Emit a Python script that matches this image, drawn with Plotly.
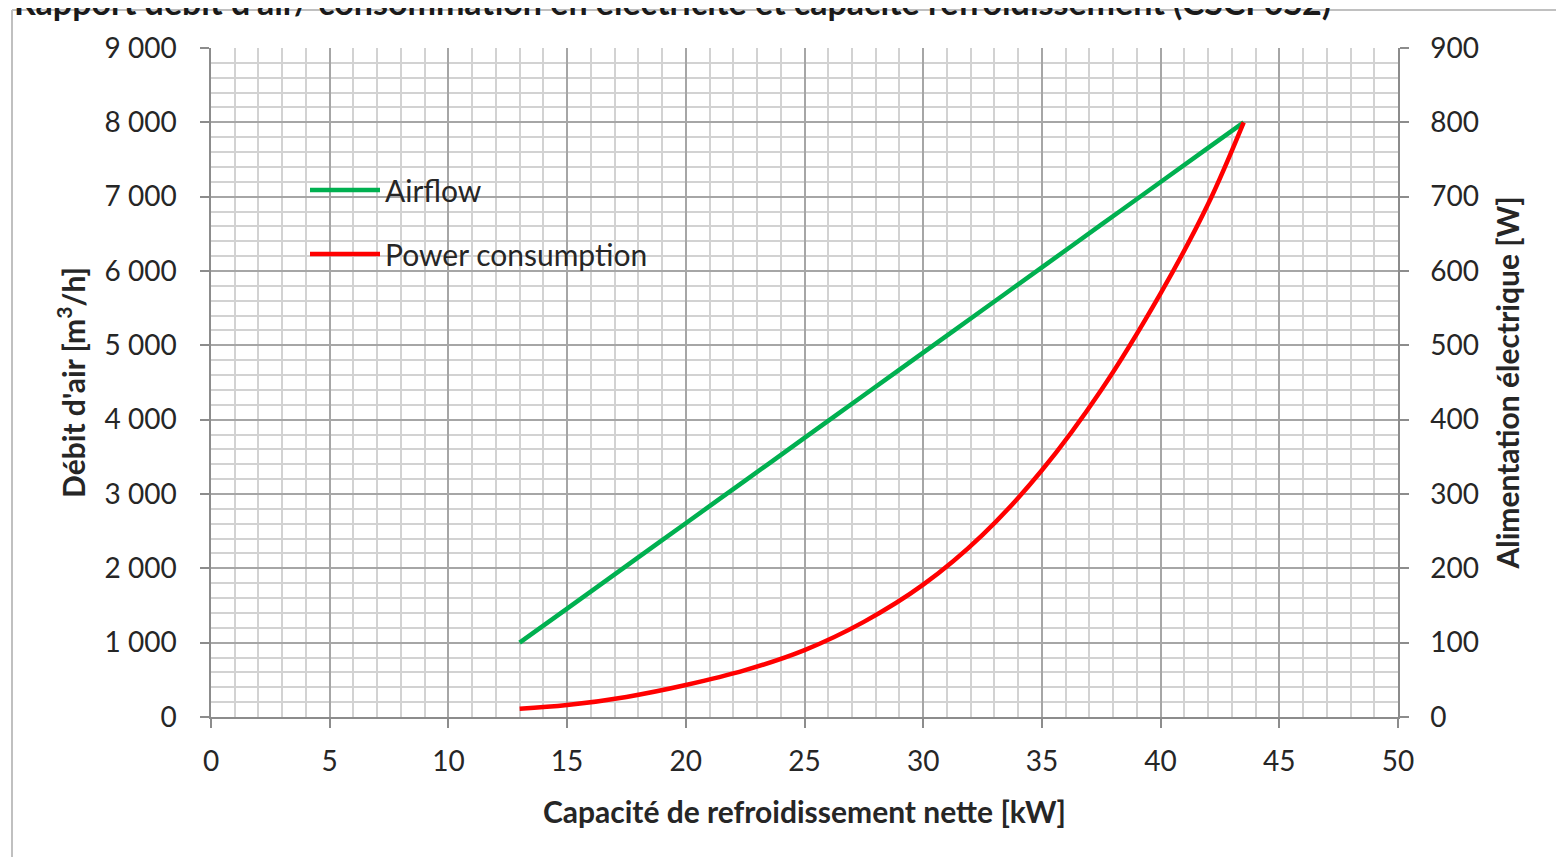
import plotly.graph_objects as go

# Data
capacity_kw = [13, 15, 17.5, 20, 22.5, 25, 27.5, 30, 32.5, 35, 37.5, 40, 42, 43.5]
airflow_m3h = [1000, 1459, 2033, 2607, 3180, 3754, 4328, 4902, 5475, 6049, 6623, 7197, 7656, 8000]
power_w = [11, 16, 27, 43, 63, 90, 128, 178, 245, 332, 440, 570, 690, 800]

x_ticks = [0, 5, 10, 15, 20, 25, 30, 35, 40, 45, 50]
title_text = "Rapport débit d'air/ consommation en électricité et capacité refroidissement (CSCI 0S2)"

FONT = "Lato"
TXT = "#262626"
OFF = 8  # page body margin

W, H = 1564 - OFF * 2, 865 - OFF * 2
# plot area in page pixels: x 211..1398, y 48..717
X0, X1, Y0, Y1 = 211 - OFF, 1398 - OFF, 48 - OFF, 717 - OFF
L, R, T, B = X0, W - X1, Y0, H - Y1
ph = Y1 - Y0
pw = X1 - X0


def px(x):
    return (x - OFF - X0) / pw


def py(y):
    return (Y1 - (y - OFF)) / ph


fig = go.Figure()
fig.add_trace(go.Scatter(
    x=capacity_kw, y=airflow_m3h, mode="lines", name="Airflow",
    line=dict(color="#00B050", width=4.5, shape="spline"),
    legendgroup="a", yaxis="y"))
fig.add_trace(go.Scatter(
    x=capacity_kw, y=power_w, mode="lines", name="Power consumption",
    line=dict(color="#FF0000", width=4.5, shape="spline"),
    legendgroup="b", yaxis="y2"))

axis_common = dict(
    ticks="outside", ticklen=9, tickcolor="#8c8c8c", tickwidth=1.5,
    showline=True, linecolor="#8c8c8c", linewidth=1.5, zeroline=False,
    tickfont=dict(family=FONT, size=28, color=TXT),
)
title_font = dict(family=FONT, size=30, color=TXT, weight="bold")

fig.update_layout(
    width=W, height=H,
    margin=dict(l=L, r=R, t=T, b=B, autoexpand=False),
    paper_bgcolor="white", plot_bgcolor="white",
    separators=", ",
    font=dict(family=FONT, size=28, color=TXT),
    showlegend=True,
    legend=dict(
        x=px(305), y=py(164), xanchor="left", yanchor="top",
        bgcolor="rgba(255,255,255,0)", borderwidth=0,
        font=dict(family=FONT, size=30, color=TXT),
        traceorder="grouped", tracegroupgap=22,
        itemwidth=70,
    ),
    xaxis=dict(
        range=[0, 50], tickvals=x_ticks,
        showgrid=True, gridcolor="#a6a6a6", gridwidth=1.5,
        minor=dict(dtick=1, showgrid=True, gridcolor="#d2d2d2", gridwidth=1.5),
        ticklabelstandoff=10,
        title=dict(text="Capacité de refroidissement nette [kW]",
                   font=title_font, standoff=26),
        **axis_common,
    ),
    yaxis=dict(
        range=[0, 9000], dtick=1000, tickformat=",d",
        showgrid=True, gridcolor="#a6a6a6", gridwidth=1.5,
        minor=dict(dtick=200, showgrid=True, gridcolor="#d2d2d2", gridwidth=1.5),
        ticklabelstandoff=18,
        title=dict(text="Débit d'air [m<sup>3</sup>/h]", font=title_font, standoff=10),
        **axis_common,
    ),
    yaxis2=dict(
        range=[0, 900], dtick=100, overlaying="y", side="right",
        showgrid=False, ticklabelstandoff=16,
        title=dict(text="Alimentation électrique [W]", font=title_font, standoff=20),
        **axis_common,
    ),
)

# White legend background box (as in the reference)
fig.add_shape(type="rect", xref="paper", yref="paper", layer="between",
              x0=px(278), x1=px(688), y0=py(283), y1=py(156),
              line=dict(width=0), fillcolor="white")

# Outer chart frame (partially visible in the reference)
fig.add_shape(type="line", xref="paper", yref="paper",
              x0=px(12), x1=px(1600), y0=py(10), y1=py(10),
              line=dict(color="#c0c0c0", width=2))
fig.add_shape(type="line", xref="paper", yref="paper",
              x0=px(12), x1=px(12), y0=py(10), y1=py(900),
              line=dict(color="#c0c0c0", width=2))

# Title, clipped at the top of the page
fig.add_annotation(
    text="<b>" + title_text + "</b>", xref="paper", yref="paper",
    x=px(12), y=py(2), xanchor="left", yanchor="middle",
    showarrow=False, font=dict(family=FONT, size=34, color="#1a1a1a"))

fig.write_html("out.html")
